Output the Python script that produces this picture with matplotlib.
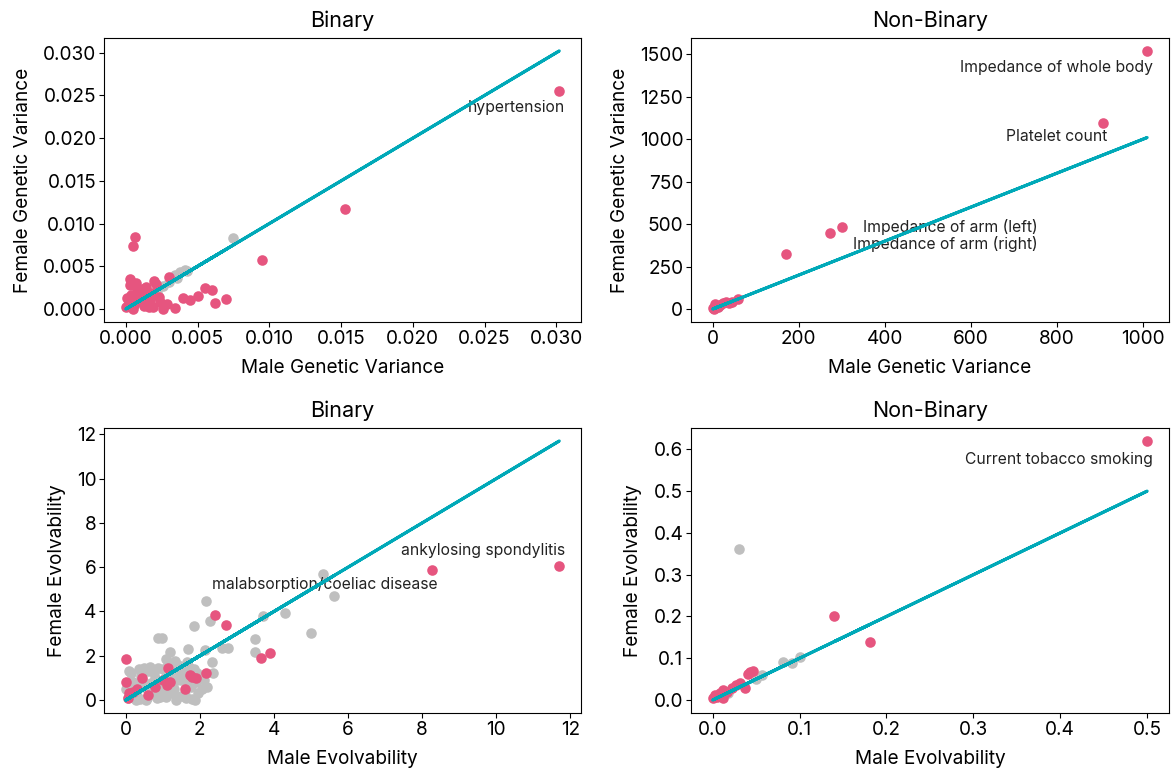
import numpy as np
import matplotlib
matplotlib.use("Agg")
import matplotlib.pyplot as plt

plt.rcParams['font.family'] = ['Inter', 'DejaVu Sans']

PINK = '#e6557f'
GREY = '#bfbfbf'
TEAL = '#00a9b8'

# --- top left: binary, genetic variance ---
gv_bin_grey_x = [0.0075, 0.0038, 0.0041, 0.0034, 0.0030, 0.0043, 0.0036, 0.0026, 0.0022, 0.0018]
gv_bin_grey_y = [0.0083, 0.0043, 0.0046, 0.0040, 0.0032, 0.0045, 0.0036, 0.0027, 0.0021, 0.0016]
gv_bin_pink_x = [0.0302, 0.0153, 0.0095, 0.00065, 0.00051, 0.0003, 0.0020, 0.0030, 0.0055, 0.0060,
                 0.0050, 0.0040, 0.0045, 0.0062, 0.0070, 0.0034, 0.0029, 0.0000, 0.0002, 0.0004,
                 0.0006, 0.0008, 0.0010, 0.0012, 0.0014, 0.0016, 0.0018, 0.0003, 0.0005, 0.0009,
                 0.0011, 0.0013, 0.0017, 0.0021, 0.0024, 0.0001, 0.0007, 0.0015, 0.0019, 0.0023,
                 0.0026, 0.0002, 0.0012, 0.0008, 0.0016]
gv_bin_pink_y = [0.0255, 0.0117, 0.0057, 0.0084, 0.0074, 0.0035, 0.0033, 0.0037, 0.0025, 0.0022,
                 0.0015, 0.0013, 0.0011, 0.0007, 0.0012, 0.0001, 0.0006, 0.0002, 0.0010, 0.0017,
                 0.0005, 0.0021, 0.0013, 0.0008, 0.0026, 0.0003, 0.0019, 0.0028, 0.0000, 0.0016,
                 0.0024, 0.0004, 0.0011, 0.0029, 0.0008, 0.0013, 0.0030, 0.0020, 0.0002, 0.0014,
                 0.0000, 0.0005, 0.0018, 0.0009, 0.0006]

# --- top right: non-binary, genetic variance ---
gv_nb_grey_x = [5, 12]
gv_nb_grey_y = [7, 14]
gv_nb_pink_x = [1010, 907, 300, 272, 170, 58, 23, 0, 8, 17, 30, 37, 3, 12, 5, 45]
gv_nb_pink_y = [1520, 1097, 484, 450, 327, 58, 36, 6, 18, 24, 42, 36, 2, 10, 28, 40]

# --- bottom left: binary, evolvability ---
ev_bin_grey_x = [2.17, 2.28, 1.84, 0.87, 0.98, 1.68, 1.20, 2.14, 2.33, 2.60, 2.76, 3.49, 3.70, 3.49,
                 4.30, 5.00, 5.33, 5.62, 2.35, 0.05, 0.10, 0.20, 0.30, 0.40, 0.50, 0.60, 0.70, 0.80,
                 0.90, 1.00, 1.10, 1.20, 1.30, 1.40, 1.50, 1.60, 1.70, 1.80, 1.90, 2.00, 0.15, 0.35,
                 0.55, 0.75, 0.95, 1.15, 1.35, 1.55, 1.75, 1.95, 0.25, 0.45, 0.65, 0.85, 1.05, 1.25,
                 1.45, 1.65, 1.85, 2.05, 0.00, 0.12, 0.38, 0.62, 0.88, 1.12, 1.38, 1.62, 1.88, 2.10,
                 0.08, 0.48, 0.92, 1.32, 1.72, 0.28, 0.68, 1.08, 1.48, 1.92, 2.20, 0.58, 1.02, 1.58]
ev_bin_grey_y = [4.47, 3.57, 3.34, 2.80, 2.80, 2.30, 2.17, 2.26, 1.72, 2.35, 2.35, 2.76, 3.79, 2.17,
                 3.93, 3.03, 5.69, 4.70, 1.22, 0.10, 0.40, 0.80, 0.20, 1.10, 0.60, 1.30, 0.30, 1.00,
                 0.70, 1.40, 0.15, 1.20, 0.50, 1.60, 0.90, 0.25, 1.50, 0.05, 0.80, 1.10, 1.20, 1.40,
                 0.00, 1.20, 0.40, 1.60, 0.00, 1.50, 0.60, 0.30, 0.60, 0.90, 1.50, 0.10, 1.00, 0.30,
                 1.25, 1.70, 1.40, 0.50, 0.50, 0.75, 0.05, 0.35, 1.45, 0.70, 0.90, 0.10, 0.00, 0.90,
                 1.30, 1.45, 0.15, 1.75, 0.80, 0.00, 0.75, 1.85, 0.20, 1.20, 0.60, 0.10, 0.50, 1.10]
ev_bin_pink_x = [11.70, 8.27, 2.41, 2.71, 3.65, 3.89, 0.00, 1.14, 1.73, 2.17, 0.44, 0.00, 1.11,
                 0.60, 0.20, 1.90, 0.05, 0.30, 0.80, 1.00, 1.20, 1.60, 1.80, 0.10]
ev_bin_pink_y = [6.04, 5.87, 3.84, 3.39, 1.90, 2.12, 1.85, 1.45, 1.13, 1.22, 0.99, 0.81, 0.68,
                 0.23, 0.36, 1.00, 0.10, 0.50, 0.60, 0.90, 0.80, 0.50, 1.05, 0.30]

# --- bottom right: non-binary, evolvability ---
ev_nb_grey_x = [0.030, 0.1006, 0.091, 0.081, 0.057, 0.018, 0.050]
ev_nb_grey_y = [0.361, 0.103, 0.089, 0.091, 0.060, 0.017, 0.050]
ev_nb_pink_x = [0.500, 0.140, 0.181, 0.043, 0.041, 0.032, 0.037, 0.022, 0.012, 0.008, 0.000,
                0.012, 0.003, 0.046, 0.027, 0.017, 0.005]
ev_nb_pink_y = [0.620, 0.201, 0.139, 0.067, 0.062, 0.041, 0.029, 0.029, 0.024, 0.017, 0.005,
                0.005, 0.012, 0.070, 0.035, 0.020, 0.008]

panels = [
    ("Binary", gv_bin_grey_x, gv_bin_grey_y, gv_bin_pink_x, gv_bin_pink_y,
     "Male Genetic Variance", "Female Genetic Variance",
     [("hypertension", 0, (6, -16), 'right')]),
    ("Non-Binary", gv_nb_grey_x, gv_nb_grey_y, gv_nb_pink_x, gv_nb_pink_y,
     "Male Genetic Variance", "Female Genetic Variance",
     [("Impedance of whole body", 0, (6, -17), 'right'),
      ("Platelet count", 1, (4, -14), 'right'),
      ("Impedance of arm (left)", 2, (21, 0), 'left'),
      ("Impedance of arm (right)", 3, (23, -11), 'left')]),
    ("Binary", ev_bin_grey_x, ev_bin_grey_y, ev_bin_pink_x, ev_bin_pink_y,
     "Male Evolvability", "Female Evolvability",
     [("ankylosing spondylitis", 0, (6, 16), 'right'),
      ("malabsorption/coeliac disease", 1, (5, -14), 'right')]),
    ("Non-Binary", ev_nb_grey_x, ev_nb_grey_y, ev_nb_pink_x, ev_nb_pink_y,
     "Male Evolvability", "Female Evolvability",
     [("Current tobacco smoking", 0, (6, -19), 'right')]),
]

fig = plt.figure(figsize=(11.73, 7.74), dpi=100)
boxes = [[0.0887, 0.584, 0.4066, 0.3669], [0.589, 0.584, 0.4075, 0.3669],
         [0.0887, 0.0788, 0.4066, 0.3682], [0.589, 0.0788, 0.4075, 0.3682]]

for box, (title, gx, gy, px, py, xl, yl, notes) in zip(boxes, panels):
    ax = fig.add_axes(box)
    ax.scatter(gx, gy, s=58, color=GREY, linewidths=0, zorder=2)
    ax.scatter(px, py, s=58, color=PINK, linewidths=0, zorder=3)
    allx = np.array(gx + px)
    ax.plot(allx, allx, color=TEAL, lw=2.2, zorder=4)
    for text, i, off, ha in notes:
        ax.annotate(text, (px[i], py[i]), xytext=off, textcoords='offset pixels',
                    ha=ha, va='center', fontsize=11.3, color='#222222')
    ax.set_title(title, fontsize=15.5, pad=8)
    ax.set_xlabel(xl, fontsize=13.7, labelpad=8)
    ax.set_ylabel(yl, fontsize=13.7, labelpad=8)
    ax.tick_params(labelsize=13.7, pad=2)

plt.savefig("out.png")
